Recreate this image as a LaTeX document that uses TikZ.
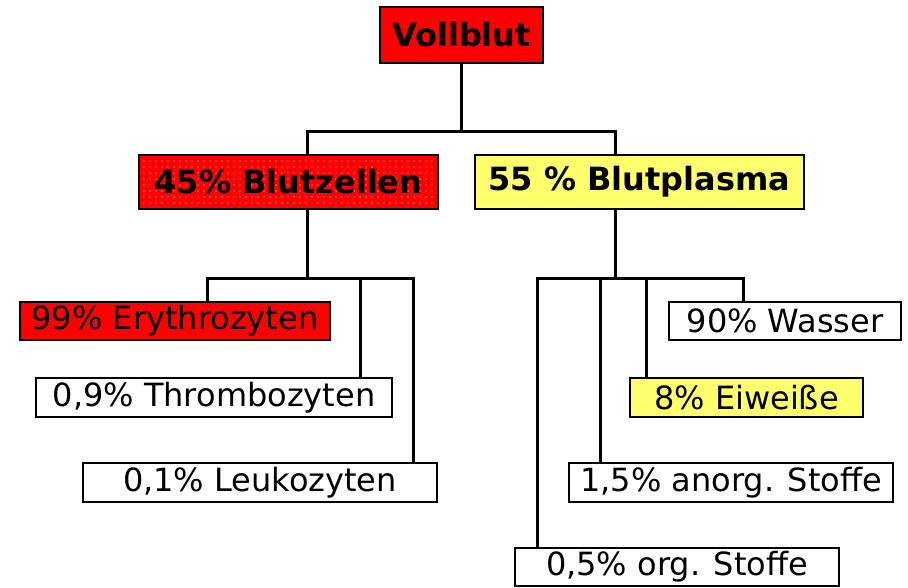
\documentclass[tikz,border=0pt]{standalone}
\usepackage{fontspec}
\setmainfont{DejaVu Sans}
\usepackage{xcolor}
\usetikzlibrary{patterns.meta}

\definecolor{blutrot}{RGB}{255,0,0}
\definecolor{plasmagelb}{RGB}{255,255,110}

\begin{document}
\begin{tikzpicture}[
        x=1pt, y=-1pt,
        box/.style={rectangle, draw, line width=2.4pt, inner sep=0pt, align=center, font=\fontsize{32}{36}\selectfont},
        head/.style={box, font=\fontsize{32}{36}\selectfont\bfseries},
        dotted red/.style={preaction={fill=blutrot}, pattern={Dots[distance=6pt, radius=0.7pt]}, pattern color=white},
        link/.style={draw, line width=3pt}
    ]
        \useasboundingbox (0,0) rectangle (908,587);

        % Nodes
        \node [head, fill=blutrot, minimum width=163, minimum height=56] (vollblut) at (461.5, 35) {Vollblut};

        \node [head, dotted red, minimum width=299, minimum height=54] (zellen) at (288.5, 182) {45\% Blutzellen};
        \node [head, fill=plasmagelb, minimum width=329, minimum height=54] (plasma) at (639.5, 182) {55 \% Blutplasma};

        \node [box, fill=blutrot, minimum width=310, minimum height=38] (ery) at (175, 321) {99\% Erythrozyten};
        \node [box, fill=white, minimum width=356, minimum height=39] (thrombo) at (214, 397.5) {0,9\% Thrombozyten};
        \node [box, fill=white, minimum width=354, minimum height=39] (leuko) at (260, 482.5) {0,1\% Leukozyten};

        \node [box, fill=white, minimum width=232, minimum height=38] (wasser) at (785, 321) {90\% Wasser};
        \node [box, fill=plasmagelb, minimum width=233, minimum height=39] (eiweiss) at (746.5, 397.5) {8\% Eiweiße};
        \node [box, fill=white, minimum width=324, minimum height=39] (anorg) at (731, 482.5) {1,5\% anorg. Stoffe};
        \node [box, fill=white, minimum width=324, minimum height=38] (org) at (677, 567) {0,5\% org. Stoffe};

        % Junctions of the tree
        \coordinate (topbus) at (461.5, 131);
        \coordinate (zellbus) at (307, 278);
        \coordinate (plasmabus) at (615, 278);

        % Connections
        \path [link] (vollblut.south) -- (topbus);
        \path [link] (zellen.north -| 307,0) |- (topbus) -| (plasma.north -| 615,0);

        \path [link] (zellen.south -| zellbus) -- (zellbus);
        \path [link] (ery.north -| 207,0) |- (zellbus) -| (leuko.north -| 413,0);
        \path [link] (thrombo.north -| 360,0) -- (zellbus -| 360,0);

        \path [link] (plasma.south -| plasmabus) -- (plasmabus);
        \path [link] (org.north -| 537,0) |- (plasmabus) -| (wasser.north -| 743,0);
        \path [link] (anorg.north -| 600,0) -- (plasmabus -| 600,0);
        \path [link] (eiweiss.north -| 646,0) -- (plasmabus -| 646,0);

    \end{tikzpicture}
\end{document}
